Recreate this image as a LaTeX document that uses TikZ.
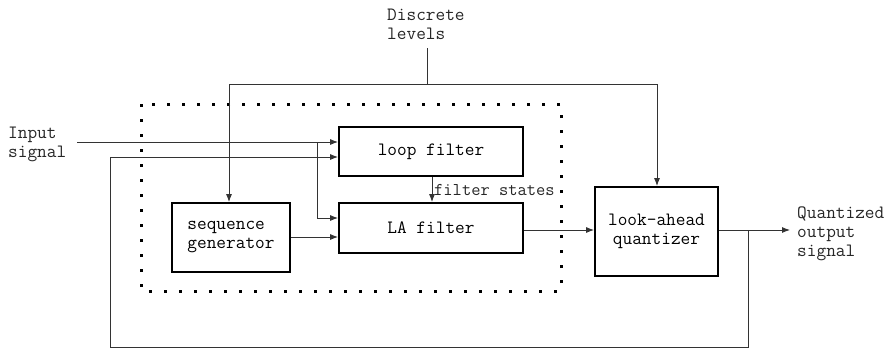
\documentclass[tikz,border=0pt]{standalone}
\usepackage{fontspec}
\usetikzlibrary{arrows.meta}
\begin{document}
\begin{tikzpicture}[x=1pt,y=-1pt,
  font=\fontsize{18.8}{19}\selectfont\ttfamily,
  blk/.style={draw, line width=1.8pt, inner sep=0pt, align=left},
  con/.style={line width=0.9pt, draw=black!80},
  arr/.style={con, -{Latex[length=8pt,width=6pt]}},
  lbl/.style={inner sep=0pt, align=left, text=black!85}]
\useasboundingbox (0,0) rectangle (894,348);
% dotted region
\draw[line width=3pt, dash pattern=on 3pt off 12pt] (141,104) rectangle (561,291);
% blocks
\node[blk, minimum width=184pt, minimum height=49pt] (lf) at (431,151.5) {loop filter};
\node[blk, minimum width=184pt, minimum height=50pt] (la) at (431,228) {LA filter};
\node[blk, minimum width=118pt, minimum height=69pt] (sg) at (231,237.5) {sequence\\generator};
\node[blk, minimum width=123pt, minimum height=89pt, align=center] (q) at (656.5,231.5) {look-ahead\\quantizer};
% labels
\node[lbl, anchor=north west] (dl) at (387,8.5) {Discrete\\levels};
\node[lbl, anchor=north west] (in) at (8,127) {Input\\signal};
\node[lbl, anchor=north west] (out) at (797,207) {Quantized\\output\\signal};
\node[lbl, anchor=west, font=\fontsize{18}{18}\selectfont\ttfamily] (fs) at (434,190) {filter states};
% coordinates
\coordinate (d0) at (427,48);
\coordinate (d1) at (427,84);
\coordinate (dl1) at (229,84);
\coordinate (dr1) at (657,84);
\coordinate (i0) at (77,142);
\coordinate (ib) at (317,142);
\coordinate (fb0) at (110,157);
\coordinate (fb1) at (110,347);
\coordinate (fb2) at (748,347);
\coordinate (fb3) at (748,230);
\coordinate (o1) at (790,230);
% discrete levels
\draw[con] (d0) -- (d1);
\draw[arr] (dl1) -- (dr1) -- (dr1 |- q.north);
\draw[arr] (d1) -- (dl1) -- (dl1 |- sg.north);
% input
\draw[arr] (i0) -- (lf.west |- i0);
\draw[arr] (ib) |- (la.west |- 0,218);
% feedback
\draw[arr] (fb3) -- (fb2) -- (fb1) -- (fb0) -- (lf.west |- fb0);
% inner connections
\draw[arr] (sg.east |- 0,237) -- (la.west |- 0,237);
\draw[arr] (lf.south -| 432,0) -- (la.north -| 432,0);
\draw[arr] (la.east |- 0,230) -- (q.west |- 0,230);
\draw[arr] (q.east |- 0,230) -- (o1);
\end{tikzpicture}
\end{document}
